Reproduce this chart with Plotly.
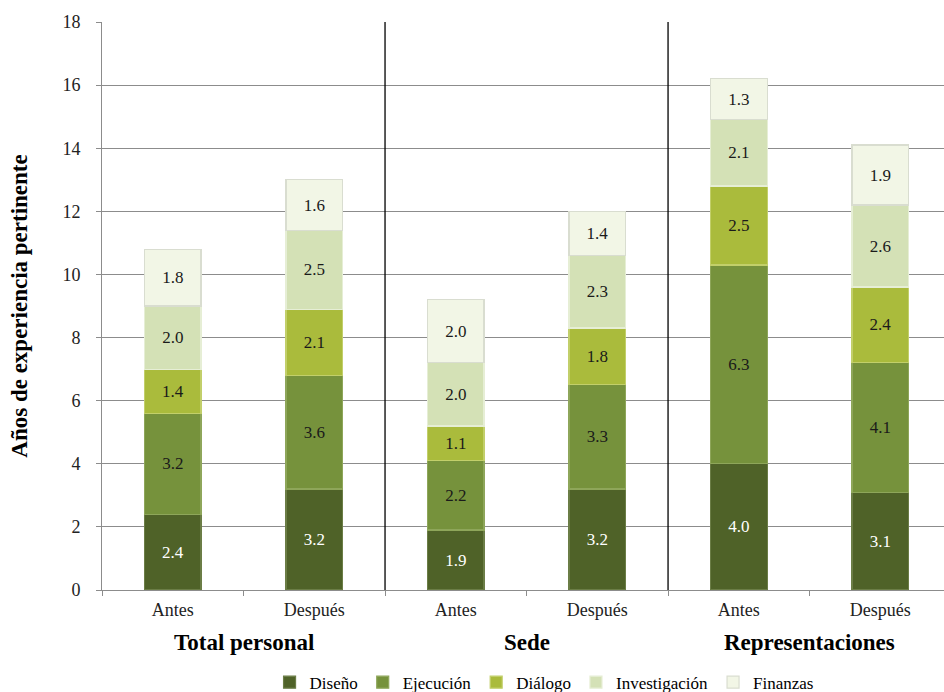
import plotly.graph_objects as go

# Categories: (group, period)
groups = ["Total personal", "Sede", "Representaciones"]
periods = ["Antes", "Después"]

series_names = ["Diseño", "Ejecución", "Diálogo", "Investigación", "Finanzas"]

# Years of relevant experience per area, one list per series, bars in order:
# Total Antes, Total Después, Sede Antes, Sede Después, Repr. Antes, Repr. Después
diseno = [2.4, 3.2, 1.9, 3.2, 4.0, 3.1]
ejecucion = [3.2, 3.6, 2.2, 3.3, 6.3, 4.1]
dialogo = [1.4, 2.1, 1.1, 1.8, 2.5, 2.4]
investigacion = [2.0, 2.5, 2.0, 2.3, 2.1, 2.6]
finanzas = [1.8, 1.6, 2.0, 1.4, 1.3, 1.9]

series_values = [diseno, ejecucion, dialogo, investigacion, finanzas]
colors = ["#4f6228", "#76923c", "#aabb3c", "#d4e1b6", "#f2f6e6"]
edge_colors = ["#6b7d46", "#8ea65a", "#c2cf6a", "#e6eed5", "#d9ddd0"]
text_colors = ["white", "#1a1a1a", "#1a1a1a", "#1a1a1a", "#1a1a1a"]

y_ticks = list(range(0, 19, 2))

FONT = "Liberation Serif, Times New Roman, serif"

x_pos = list(range(len(groups) * len(periods)))
x_labels = [p for g in groups for p in periods]

fig = go.Figure()
for name, vals, col, edge, tcol in zip(series_names, series_values, colors, edge_colors, text_colors):
    fig.add_trace(go.Bar(
        name=name,
        x=x_pos,
        y=vals,
        width=0.4,
        marker=dict(color=col, line=dict(color=edge, width=1.2)),
        text=[f"{v:.1f}" for v in vals],
        textposition="inside",
        insidetextanchor="middle",
        textangle=0,
        textfont=dict(family=FONT, size=17, color=tcol),
        hoverinfo="skip",
    ))

# Vertical separators between groups
for k in range(1, len(groups)):
    sep = k * len(periods) - 0.5
    fig.add_shape(type="line", xref="x", yref="y", x0=sep, x1=sep, y0=0, y1=18,
                  line=dict(color="black", width=1.3), layer="above")

# Group labels under the period labels
for i, g in enumerate(groups):
    center = i * len(periods) + (len(periods) - 1) / 2
    fig.add_annotation(x=center, xref="x", y=-0.093, yref="paper", text=f"<b>{g}</b>",
                       showarrow=False, font=dict(family=FONT, size=23, color="black"),
                       yanchor="middle")

fig.update_layout(
    barmode="stack",
    width=944, height=692,
    margin=dict(l=102, r=0, t=22, b=102, autoexpand=False),
    plot_bgcolor="white",
    paper_bgcolor="white",
    font=dict(family=FONT, color="black"),
    showlegend=True,
    legend=dict(orientation="h", x=0.525, xanchor="center", y=-0.163, yanchor="middle",
                font=dict(family=FONT, size=17), itemwidth=30, tracegroupgap=0,
                traceorder="normal"),
    xaxis=dict(
        range=[-0.5, 5.45], automargin=False,
        tickmode="array", tickvals=x_pos, ticktext=x_labels,
        ticks="", showgrid=False, zeroline=False,
        showline=True, linecolor="#8c8c8c", linewidth=1,
        tickfont=dict(family=FONT, size=18, color="#222"),
        ticklabelstandoff=3,
        minor=dict(tickmode="array", tickvals=[i - 0.5 for i in range(7)],
                   ticks="outside", ticklen=5, tickcolor="#8c8c8c", showgrid=False),
    ),
    yaxis=dict(
        range=[0, 18], tickmode="array", tickvals=y_ticks, automargin=False,
        ticks="outside", ticklen=5, tickcolor="#8c8c8c",
        showgrid=True, gridcolor="#8c8c8c", gridwidth=1,
        showline=True, linecolor="#8c8c8c", linewidth=1, zeroline=False,
        tickfont=dict(family=FONT, size=18, color="#222"),
        ticklabelstandoff=12,
        title=dict(text="<b>Años de experiencia pertinente</b>",
                   font=dict(family=FONT, size=23, color="black"), standoff=28),
    ),
)

fig.write_html("out.html")
